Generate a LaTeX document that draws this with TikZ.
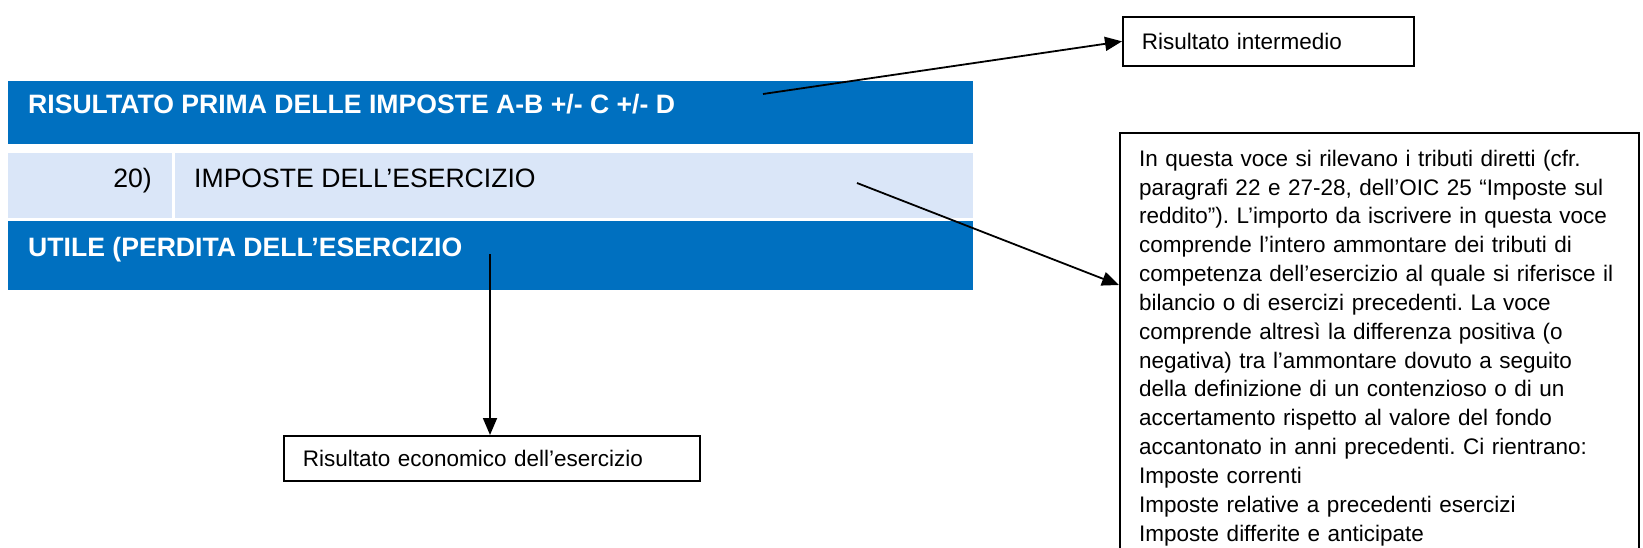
\documentclass[tikz,border=0pt]{standalone}
\usepackage{fontspec}
\setmainfont{Liberation Sans}
\usetikzlibrary{arrows.meta,calc}
\definecolor{bandblue}{RGB}{0,112,192}
\definecolor{bandlight}{RGB}{218,230,248}
\frenchspacing
\begin{document}
\begin{tikzpicture}[x=1pt,y=-1pt,
  band/.style={draw=none,inner sep=0pt,outer sep=0pt,anchor=north west,minimum width=965pt},
  bandtext/.style={inner sep=0pt,font=\fontsize{26.6}{30}\selectfont},
  boxnode/.style={draw=black,line width=1.7pt,inner xsep=19pt,inner ysep=0pt,anchor=north west,align=left,font=\fontsize{22.5}{27}\selectfont},
  arr/.style={draw=black,line width=1.8pt,-{Triangle[length=17pt,width=14pt]}}]
\useasboundingbox (0,0) rectangle (1643,548);
% bands
\node[band,fill=bandblue,minimum height=63pt] (b1) at (8,81) {};
\node[band,fill=bandlight,minimum height=65pt] (b2) at (8,153) {};
\node[band,fill=bandblue,minimum height=69pt] (b3) at (8,221) {};
\draw[white,line width=3pt] (173,144) -- (173,218);
% band texts
\node[bandtext,text=white,anchor=base west] (t1) at (28,114) {\bfseries RISULTATO PRIMA DELLE IMPOSTE A-B +/- C +/- D};
\node[bandtext,anchor=base east] (t2a) at (152,188) {20)};
\node[bandtext,anchor=base west] (t2b) at (194,188) {IMPOSTE DELL’ESERCIZIO};
\node[bandtext,text=white,anchor=base west] (t3) at (28,256) {\bfseries UTILE (PERDITA DELL’ESERCIZIO};
% boxes
\node[boxnode,minimum width=291pt,minimum height=49pt,text width=253pt] (inter) at (1122,16) {Risultato intermedio};
\node[boxnode,minimum width=416pt,minimum height=45pt,text width=378pt] (econ) at (283,435) {Risultato economico dell’esercizio};
\node[draw=black,line width=1.7pt,inner sep=0pt,anchor=north west,minimum width=519pt,minimum height=440pt] (callout) at (1119,132) {};
\node[inner sep=0pt,anchor=north west,align=left,text width=500pt,font=\fontsize{22.5}{28.85}\selectfont] (ctext) at (1139,146) {\rule{0pt}{20pt}In questa voce si rilevano i tributi diretti (cfr.\\
paragrafi 22 e 27-28, dell’OIC 25 “Imposte sul\\
reddito”). L’importo da iscrivere in questa voce\\
comprende l’intero ammontare dei tributi di\\
competenza dell’esercizio al quale si riferisce il\\
bilancio o di esercizi precedenti. La voce\\
comprende altresì la differenza positiva (o\\
negativa) tra l’ammontare dovuto a seguito\\
della definizione di un contenzioso o di un\\
accertamento rispetto al valore del fondo\\
accantonato in anni precedenti. Ci rientrano:\\
Imposte correnti\\
Imposte relative a precedenti esercizi\\
Imposte differite e anticipate};
% connectors
\coordinate (a1) at (763,94);
\coordinate (a2) at (857,183);
\coordinate (a3) at (490,254);
\draw[arr] (a1) -- (inter.west);
\draw[arr] (a2) -- ($(callout.north west)+(0,153)$);
\draw[arr] (a3) -- (a3 |- econ.north);
\end{tikzpicture}
\end{document}
